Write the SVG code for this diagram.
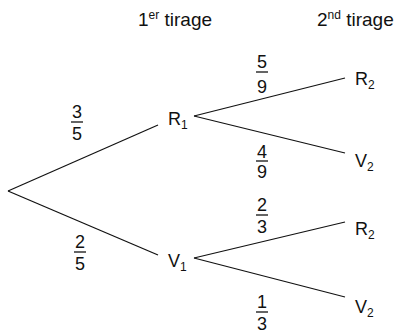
<svg xmlns="http://www.w3.org/2000/svg" width="405" height="333" viewBox="0 0 405 333">
<style>
text{font-family:"Liberation Sans",Arial,sans-serif;font-size:18px;fill:#111}
.h{font-size:19px}
.sub{font-size:12px}
.sup{font-size:12px}
.f{text-anchor:middle}
.b{stroke:#111;stroke-width:1.3}
.e{stroke:#111;stroke-width:1.2;fill:none}
</style>
<rect width="405" height="333" fill="#fff"/>
<g id="headers">
<text class="h" x="138" y="26">1<tspan class="sup" dy="-7">er</tspan><tspan dy="7"> tirage</tspan></text>
<text class="h" x="317" y="26">2<tspan class="sup" dy="-7">nd</tspan><tspan dy="7"> tirage</tspan></text>
</g>
<g id="connectors">
<line class="e" x1="8" y1="191" x2="158" y2="125"/>
<line class="e" x1="8" y1="191" x2="158" y2="255"/>
<line class="e" x1="194" y1="116" x2="345" y2="78"/>
<line class="e" x1="194" y1="116" x2="345" y2="153"/>
<line class="e" x1="194" y1="258" x2="345" y2="222"/>
<line class="e" x1="194" y1="258" x2="345" y2="297"/>
</g>
<g id="R1"><text x="168" y="125">R<tspan class="sub" dy="4">1</tspan></text></g>
<g id="V1"><text x="168" y="267">V<tspan class="sub" dy="4">1</tspan></text></g>
<g id="R2a"><text x="355" y="85">R<tspan class="sub" dy="4">2</tspan></text></g>
<g id="V2a"><text x="355" y="167">V<tspan class="sub" dy="4">2</tspan></text></g>
<g id="R2b"><text x="355" y="235">R<tspan class="sub" dy="4">2</tspan></text></g>
<g id="V2b"><text x="355" y="313">V<tspan class="sub" dy="4">2</tspan></text></g>
<g id="labels">
<g><text class="f" x="77" y="118">3</text><line class="b" x1="71" y1="122" x2="83" y2="122"/><text class="f" x="77" y="140">5</text></g>
<g><text class="f" x="80" y="248">2</text><line class="b" x1="74" y1="252" x2="86" y2="252"/><text class="f" x="80" y="270">5</text></g>
<g><text class="f" x="262" y="68">5</text><line class="b" x1="256" y1="72" x2="268" y2="72"/><text class="f" x="262" y="93">9</text></g>
<g><text class="f" x="262" y="158">4</text><line class="b" x1="256" y1="161" x2="268" y2="161"/><text class="f" x="262" y="178">9</text></g>
<g><text class="f" x="262" y="211">2</text><line class="b" x1="256" y1="215" x2="268" y2="215"/><text class="f" x="262" y="233">3</text></g>
<g><text class="f" x="262" y="308">1</text><line class="b" x1="256" y1="312" x2="268" y2="312"/><text class="f" x="262" y="330">3</text></g>
</g>
</svg>
